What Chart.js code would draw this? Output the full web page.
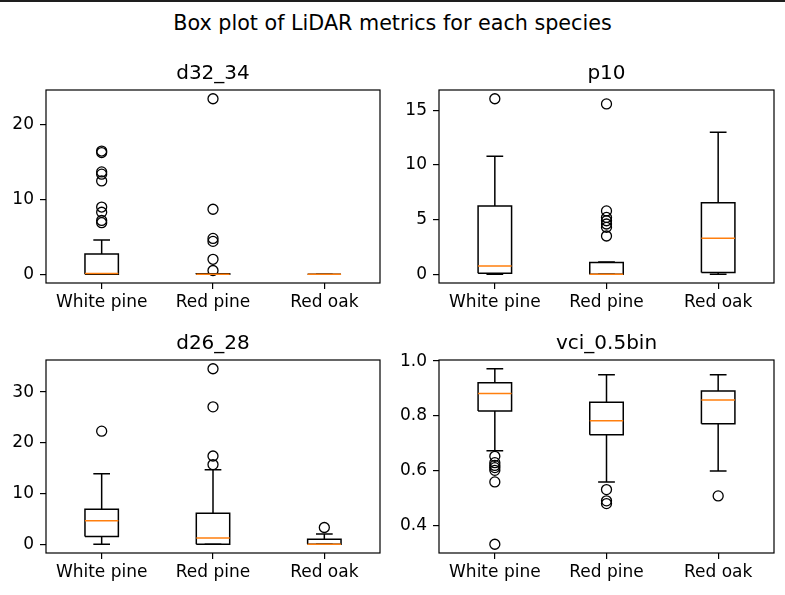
<!DOCTYPE html>
<html>
<head>
<meta charset="utf-8">
<script src="https://cdn.jsdelivr.net/npm/chart.js@4/dist/chart.umd.min.js"></script>
<style>
body { margin: 0; background: #fff; width: 785px; height: 595px; position: relative; overflow: hidden; font-family: "DejaVu Sans"; }
#topline { position: absolute; left: 0; top: 0; width: 785px; height: 2px; background: #1e1e1e; }
#suptitle { position: absolute; left: 0; top: 11px; width: 785px; text-align: center; font-size: 20.7px; line-height: 24px; color: #000; }
canvas { position: absolute; }
</style>
</head>
<body>
<div id="topline"></div>
<div id="suptitle">Box plot of LiDAR metrics for each species</div>
<canvas id="c1" width="392" height="256" style="left:0;top:62px"></canvas>
<canvas id="c2" width="393" height="256" style="left:392px;top:62px"></canvas>
<canvas id="c3" width="392" height="256" style="left:0;top:332px"></canvas>
<canvas id="c4" width="393" height="256" style="left:392px;top:332px"></canvas>
<script>
const species = ['White pine', 'Red pine', 'Red oak'];

// d32_34
const d32_lo  = [0, 0, 0];
const d32_q1  = [0, 0, 0];
const d32_med = [0.1, 0, 0];
const d32_q3  = [2.7, 0.05, 0];
const d32_hi  = [4.6, 0.05, 0];
const d32_out = [[6.9, 7.2, 8.3, 9.0, 12.5, 13.4, 13.7, 16.3, 16.5], [0.5, 2.0, 4.4, 4.8, 8.7, 23.5], []];
const d32_ticks = [0, 10, 20];

// p10
const p10_lo  = [0, 0, 0];
const p10_q1  = [0.09, 0, 0.15];
const p10_med = [0.76, 0, 3.3];
const p10_q3  = [6.25, 1.07, 6.55];
const p10_hi  = [10.8, 1.13, 13.0];
const p10_out = [[16.07], [3.5, 4.3, 4.6, 4.9, 5.2, 5.8, 15.6], []];
const p10_ticks = [0, 5, 10, 15];

// d26_28
const d26_lo  = [0, 0, 0];
const d26_q1  = [1.5, 0, 0];
const d26_med = [4.64, 1.24, 0];
const d26_q3  = [6.9, 6.1, 1.0];
const d26_hi  = [13.9, 14.7, 2.0];
const d26_out = [[22.3], [15.7, 17.4, 27.1, 34.6], [3.3]];
const d26_ticks = [0, 10, 20, 30];

// vci_0.5bin
const vci_lo  = [0.673, 0.560, 0.600];
const vci_q1  = [0.818, 0.732, 0.772];
const vci_med = [0.882, 0.783, 0.858];
const vci_q3  = [0.921, 0.850, 0.891];
const vci_hi  = [0.972, 0.950, 0.950];
const vci_out = [[0.333, 0.560, 0.602, 0.612, 0.620, 0.630, 0.653], [0.481, 0.491, 0.532], [0.509]];
const vci_ticks = [0.4, 0.6, 0.8, 1.0];

const FONT = 'DejaVu Sans';

const frame = {
    id: 'frame',
    afterDraw(chart) {
        const a = chart.chartArea;
        const ctx = chart.ctx;
        ctx.save();
        ctx.strokeStyle = '#000';
        ctx.lineWidth = 1.2;
        ctx.strokeRect(a.left, a.top, a.right - a.left, a.bottom - a.top);
        ctx.restore();
    }
};

function makeBox(id, title, lo, q1, med, q3, hi, out, ticks, tickLabel, axisW, padRight) {
    const w = 0.15, cw = 0.075;
    let boxes = [], whisk = [], meds = [], fliers = [];
    let all = [];
    for (let i = 0; i < species.length; i++) {
        const x = i + 1;
        boxes.push({x: x - w, y: q1[i]}, {x: x + w, y: q1[i]}, {x: x + w, y: q3[i]},
                   {x: x - w, y: q3[i]}, {x: x - w, y: q1[i]}, {x: x, y: null});
        whisk.push({x: x, y: q1[i]}, {x: x, y: lo[i]}, {x: x, y: null},
                   {x: x - cw, y: lo[i]}, {x: x + cw, y: lo[i]}, {x: x, y: null},
                   {x: x, y: q3[i]}, {x: x, y: hi[i]}, {x: x, y: null},
                   {x: x - cw, y: hi[i]}, {x: x + cw, y: hi[i]}, {x: x, y: null});
        meds.push({x: x - w, y: med[i]}, {x: x + w, y: med[i]}, {x: x, y: null});
        out[i].forEach(v => fliers.push({x: x, y: v}));
        all.push(lo[i], hi[i], ...out[i]);
    }
    const ymin = Math.min(...all), ymax = Math.max(...all);
    const m = (ymax - ymin) * 0.05;

    const lineDs = (data, color) => ({
        data: data, showLine: true, borderColor: color, borderWidth: 1.5,
        pointRadius: 0, spanGaps: false, borderJoinStyle: 'miter', borderCapStyle: 'butt'
    });

    new Chart(document.getElementById(id), {
        type: 'scatter',
        data: {
            datasets: [
                lineDs(meds, '#ff7f0e'),
                lineDs(boxes, '#000'),
                lineDs(whisk, '#000'),
                {
                    data: fliers, pointStyle: 'circle', pointRadius: 5,
                    pointBorderColor: '#000', pointBackgroundColor: 'rgba(0,0,0,0)',
                    pointBorderWidth: 1.3, showLine: false
                }
            ]
        },
        options: {
            responsive: false,
            animation: false,
            layout: { padding: { left: 0, right: padRight, top: 0, bottom: 0 } },
            plugins: {
                legend: { display: false },
                tooltip: { enabled: false },
                title: {
                    display: true, text: title, color: '#000', fullSize: false,
                    font: { family: FONT, size: 20, weight: 'normal', lineHeight: 1.2 },
                    padding: { top: 0, bottom: 4 }
                }
            },
            scales: {
                x: {
                    type: 'linear', min: 0.5, max: 3.5,
                    afterBuildTicks: s => { s.ticks = species.map((_, i) => ({value: i + 1})); },
                    afterFit: s => { s.height = 35; },
                    ticks: {
                        color: '#000', padding: 3, autoSkip: false, maxRotation: 0,
                        font: { family: FONT, size: 17 },
                        callback: v => species[v - 1]
                    },
                    grid: { display: true, drawOnChartArea: false, drawTicks: true, tickLength: 6, color: '#000', lineWidth: 1.2 },
                    border: { display: false }
                },
                y: {
                    type: 'linear', min: ymin - m, max: ymax + m,
                    afterBuildTicks: s => { s.ticks = ticks.map(v => ({value: v})); },
                    afterFit: s => { s.width = axisW; },
                    ticks: {
                        color: '#000', padding: 6,
                        font: { family: FONT, size: 17 },
                        callback: tickLabel
                    },
                    grid: { display: true, drawOnChartArea: false, drawTicks: true, tickLength: 6, color: '#000', lineWidth: 1.2 },
                    border: { display: false }
                }
            }
        },
        plugins: [frame]
    });
}

const intLabel = v => String(v);
const decLabel = v => v.toFixed(1);

makeBox('c1', 'd32_34', d32_lo, d32_q1, d32_med, d32_q3, d32_hi, d32_out, d32_ticks, intLabel, 46, 12);
makeBox('c2', 'p10', p10_lo, p10_q1, p10_med, p10_q3, p10_hi, p10_out, p10_ticks, intLabel, 47, 11);
makeBox('c3', 'd26_28', d26_lo, d26_q1, d26_med, d26_q3, d26_hi, d26_out, d26_ticks, intLabel, 46, 12);
makeBox('c4', 'vci_0.5bin', vci_lo, vci_q1, vci_med, vci_q3, vci_hi, vci_out, vci_ticks, decLabel, 47, 11);
</script>
</body>
</html>
